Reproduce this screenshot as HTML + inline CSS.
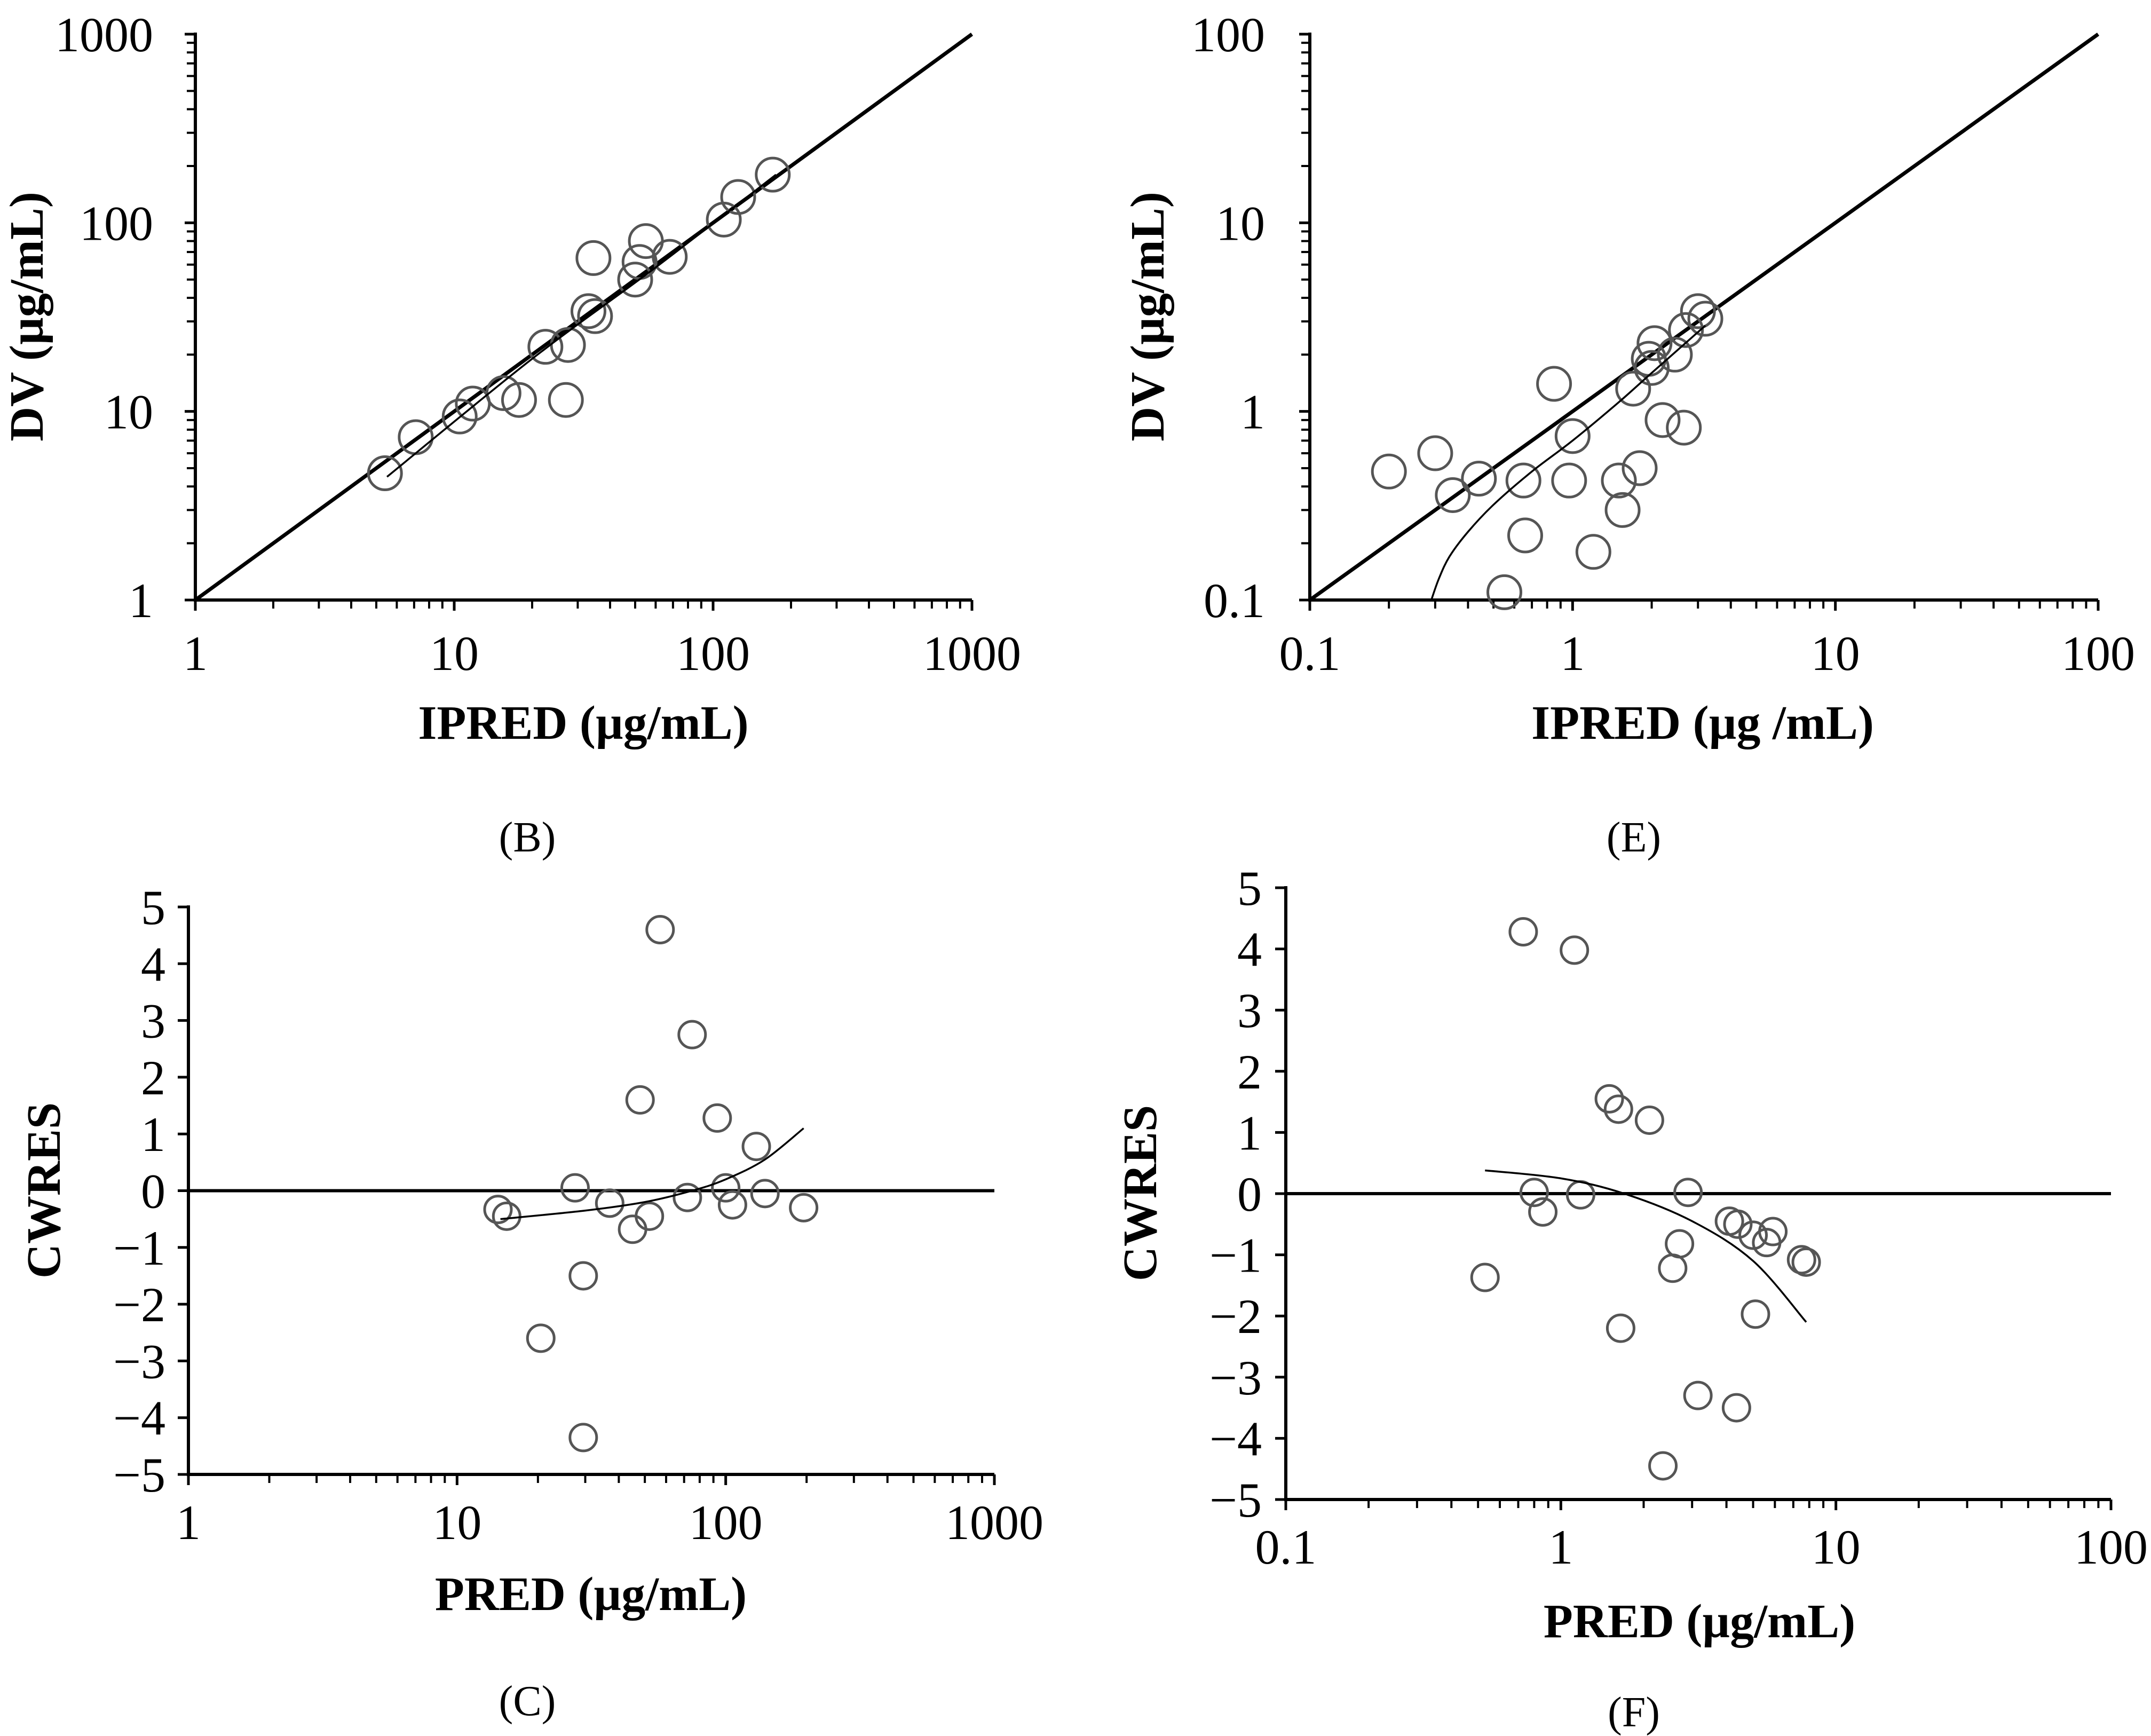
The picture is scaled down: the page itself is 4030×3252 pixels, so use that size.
<!DOCTYPE html>
<html><head><meta charset="utf-8"><style>
html,body{margin:0;padding:0;background:#fff}
svg{display:block}
text{font-family:"Liberation Serif","Times New Roman",serif;fill:#000}
</style></head><body>
<svg id="s" width="4030" height="3252" xmlns="http://www.w3.org/2000/svg"></svg>
<script>
// Panel B data
const bX=[5.4,7.1,10.5,11.8,15.5,17.8,22.5,27,27.5,33,35,34.5,50,52,55,68,110,125,170];
const bY=[4.7,7.3,9.4,11,12.5,11.5,22,11.5,22.5,34,32,65,50,62,80,66,104,137,180];
const bTrendX=[5.5,20,60,175];
const bTrendY=[4.5,19,58,180];
// Panel E data
const eX=[0.2,0.3,0.35,0.44,0.65,0.66,0.85,0.97,1.0,1.2,0.55,1.5,1.55,1.7,1.8,1.95,2.0,2.05,2.2,2.45,2.65,2.7,3.0,3.2];
const eY=[0.48,0.6,0.36,0.44,0.43,0.22,1.4,0.43,0.74,0.18,0.11,0.43,0.3,1.32,0.5,1.9,1.7,2.3,0.9,2.0,0.82,2.7,3.4,3.1];
const eTrendX=[0.29,0.31,0.34,0.4,0.5,0.7,1,1.5,2,3.2];
const eTrendY=[0.1,0.13,0.17,0.23,0.32,0.48,0.7,1.12,1.6,2.85];
// Panel C data
const cX=[14.2,15.3,20.5,27.5,29.5,29.5,37,45,48,52,57,72,75,93,100,106,130,140,195];
const cY=[-0.33,-0.45,-2.6,0.05,-1.5,-4.35,-0.22,-0.68,1.6,-0.45,4.6,-0.12,2.75,1.28,0.05,-0.25,0.78,-0.05,-0.3];
const cTrendX=[14.5,30,50,75,100,140,195];
const cTrendY=[-0.5,-0.35,-0.2,0,0.2,0.55,1.1];
// Panel F data
const fX=[0.53,0.73,0.8,0.86,1.12,1.18,1.5,1.62,1.65,2.1,2.35,2.55,2.7,2.9,3.15,4.1,4.35,4.4,5.0,5.1,5.6,5.9,7.5,7.8];
const fY=[-1.37,4.28,0.02,-0.3,3.98,-0.02,1.55,1.38,-2.2,1.2,-4.45,-1.22,-0.82,0.02,-3.3,-0.45,-3.5,-0.5,-0.68,-1.97,-0.8,-0.62,-1.08,-1.12];
const fTrendX=[0.53,1,1.7,3,5,7.8];
const fTrendY=[0.38,0.25,0,-0.45,-1.1,-2.1];
const logTicksB=["1","10","100","1000"];
const logTicksE=["0.1","1","10","100"];
const linTicks=["5","4","3","2","1","0","\u22121","\u22122","\u22123","\u22124","\u22125"];

const NS="http://www.w3.org/2000/svg";
const S=document.getElementById('s');
const FF='"Liberation Serif","Times New Roman",serif';
function el(t,a,p){const e=document.createElementNS(NS,t);for(const k in a)e.setAttribute(k,a[k]);(p||S).appendChild(e);return e;}
function txt(str,a,p){a['font-family']=FF;const e=el('text',a,p);e.textContent=str;return e;}
function smooth(P){let d='M'+P[0][0]+','+P[0][1];
  for(let i=0;i<P.length-1;i++){const p0=P[Math.max(0,i-1)],p1=P[i],p2=P[i+1],p3=P[Math.min(P.length-1,i+2)];
    d+=` C${p1[0]+(p2[0]-p0[0])/6},${p1[1]+(p2[1]-p0[1])/6} ${p2[0]-(p3[0]-p1[0])/6},${p2[1]-(p3[1]-p1[1])/6} ${p2[0]},${p2[1]}`;}
  return d;}

function panel(cfg){
  const g=el('g',{});
  
  
  const {x0,x1,y0,y1,xmin,xmax,ylog,ymin,ymax}=cfg;
  const sx=v=>x0+(Math.log10(v)-Math.log10(xmin))/(Math.log10(xmax)-Math.log10(xmin))*(x1-x0);
  const sy=ylog? v=>y0-(Math.log10(v)-Math.log10(ymin))/(Math.log10(ymax)-Math.log10(ymin))*(y0-y1)
               : v=>y0-(v-ymin)/(ymax-ymin)*(y0-y1);
  const dec0=Math.round(Math.log10(xmin)),dec1=Math.round(Math.log10(xmax));
  for(let d=dec0;d<dec1;d++){for(let m=2;m<=9;m++){const x=sx(m*Math.pow(10,d));
    el('line',{x1:x,x2:x,y1:y0,y2:y0+16,stroke:'#000','stroke-width':4},g);}}
  for(let d=dec0;d<=dec1;d++){const x=sx(Math.pow(10,d));
    el('line',{x1:x,x2:x,y1:y0,y2:y0+20,stroke:'#000','stroke-width':5},g);}
  cfg.xlabels.forEach((l,i)=>{const t=txt(l,{x:sx(Math.pow(10,dec0+i)),y:cfg.xlabY,'font-size':92,'text-anchor':'middle'},g);
    });
  if(ylog){
    const yd0=Math.round(Math.log10(ymin)),yd1=Math.round(Math.log10(ymax));
    for(let d=yd0;d<yd1;d++)for(let m=2;m<=9;m++){const y=sy(m*Math.pow(10,d));
      el('line',{x1:x0-16,x2:x0,y1:y,y2:y,stroke:'#000','stroke-width':4},g);}
    cfg.ylabels.forEach((l,i)=>{const y=sy(Math.pow(10,yd0+i));
      el('line',{x1:x0-20,x2:x0,y1:y,y2:y,stroke:'#000','stroke-width':5},g);
      const t=txt(l,{x:cfg.ylabX,y:y+32,'font-size':92,'text-anchor':'end'},g);
      });
  } else {
    cfg.ylabels.forEach((l,i)=>{const y=sy(5-i);
      el('line',{x1:x0-20,x2:x0,y1:y,y2:y,stroke:'#000','stroke-width':5},g);
      const t=txt(l,{x:cfg.ylabX,y:y+32,'font-size':92,'text-anchor':'end'},g);
      });
    const z=el('line',{x1:x0,x2:x1,y1:sy(0),y2:sy(0),stroke:'#000','stroke-width':6},g);
    
  }
  el('line',{x1:x0,x2:x0,y1:y1-3,y2:y0+3,stroke:'#000','stroke-width':6},g);
  el('line',{x1:x0,x2:x1,y1:y0,y2:y0,stroke:'#000','stroke-width':6},g);
  if(cfg.identity){const l=el('line',{x1:x0,y1:y0,x2:x1,y2:y1,stroke:'#000','stroke-width':7},g);
    }
  cfg.px.forEach((v,i)=>{const c=el('circle',{cx:sx(v),cy:sy(cfg.py[i]),r:cfg.r,fill:'none',stroke:'#555','stroke-width':5},g);
    });
  const P=cfg.tx.map((v,i)=>[sx(v),sy(cfg.ty[i])]);
  const tl=el('path',{d:smooth(P),fill:'none',stroke:'#000','stroke-width':3.5},g);
  
  const xt=txt(cfg.xtitle,{x:cfg.xtX,y:cfg.xtY,'font-size':90,'font-weight':'bold','text-anchor':'middle'},g);
  
  const yt=txt(cfg.ytitle,{x:0,y:0,'font-size':90,'font-weight':'bold','text-anchor':'middle',transform:`translate(${cfg.ytX},${cfg.ytY}) rotate(-90)`},g);
  
  const pl=txt(cfg.label,{x:cfg.plX,y:cfg.plY,'font-size':80,'text-anchor':'middle'},g);
  
}

panel({name:'panel-b',x0:366,x1:1821,y0:1124,y1:64,xmin:1,xmax:1000,ylog:true,ymin:1,ymax:1000,
  xlabY:1255,ylabX:287,xlabels:logTicksB,ylabels:logTicksB,identity:true,
  px:bX,py:bY,tx:bTrendX,ty:bTrendY,r:31,xtitle:'IPRED (\u00b5g/mL)',xtX:1093,xtY:1384,
  ytitle:'DV (\u00b5g/mL)',ytX:80,ytY:593,label:'(B)',plX:988,plY:1595});
panel({name:'panel-e',x0:2454,x1:3931,y0:1124,y1:64,xmin:0.1,xmax:100,ylog:true,ymin:0.1,ymax:100,
  xlabY:1255,ylabX:2370,xlabels:logTicksE,ylabels:logTicksE,identity:true,
  px:eX,py:eY,tx:eTrendX,ty:eTrendY,r:31,xtitle:'IPRED (\u00b5g /mL)',xtX:3190,xtY:1384,
  ytitle:'DV (\u00b5g/mL)',ytX:2180,ytY:593,label:'(E)',plX:3061,plY:1595});
panel({name:'panel-c',x0:353,x1:1863,y0:2762,y1:1699,xmin:1,xmax:1000,ylog:false,ymin:-5,ymax:5,
  xlabY:2883,ylabX:310,xlabels:logTicksB,ylabels:linTicks,identity:false,
  px:cX,py:cY,tx:cTrendX,ty:cTrendY,r:25,xtitle:'PRED (\u00b5g/mL)',xtX:1107,xtY:3016,
  ytitle:'CWRES',ytX:112,ytY:2230,label:'(C)',plX:988,plY:3213});
panel({name:'panel-f',x0:2409,x1:3955,y0:2809,y1:1663,xmin:0.1,xmax:100,ylog:false,ymin:-5,ymax:5,
  xlabY:2929,ylabX:2364,xlabels:logTicksE,ylabels:linTicks,identity:false,
  px:fX,py:fY,tx:fTrendX,ty:fTrendY,r:25,xtitle:'PRED (\u00b5g/mL)',xtX:3184,xtY:3067,
  ytitle:'CWRES',ytX:2166,ytY:2235,label:'(F)',plX:3061,plY:3234});
</script>
</body></html>
